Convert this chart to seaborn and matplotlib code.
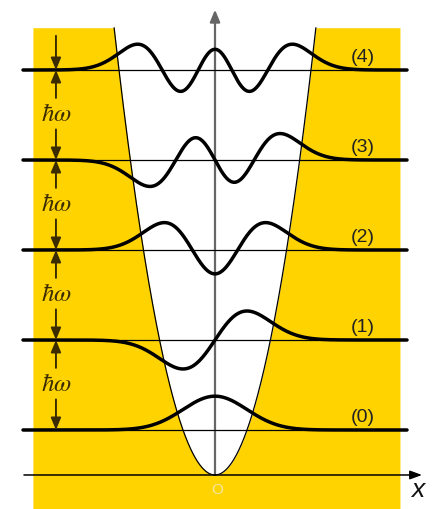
import numpy as np
import pandas as pd
import matplotlib
matplotlib.use("Agg")
import matplotlib.pyplot as plt
import seaborn as sns
from math import factorial, pi, sqrt
from numpy.polynomial.hermite import hermval

# ---- data ----
levels = [0, 1, 2, 3, 4]                     # quantum numbers n
energies = [0.5, 1.5, 2.5, 3.5, 4.5]         # E_n in units of hbar*omega
level_labels = ["(0)", "(1)", "(2)", "(3)", "(4)"]
x_range = [-6.0, 6.0]                        # extent of wave-function lines
psi_scale = 0.5                              # drawing scale of psi on energy axis
well_top = 4.97                              # top of shaded region
shade_left, shade_right = -5.69, 5.78
bottom = -0.378

sns.set_theme(style="white")
plt.rcParams['font.family'] = ['Liberation Sans', 'DejaVu Sans']
plt.rcParams['mathtext.fontset'] = 'stix'

fig = plt.figure(figsize=(4.35, 5.09), dpi=100)
ax = fig.add_axes([0, 0, 1, 1])
ax.set_xlim(-215 / 32, 220 / 32)
ax.set_ylim(bottom, 475 / 90)
ax.axis("off")

yellow = "#FFD300"
brown = "#3b2c00"

# shaded forbidden region
xs = np.linspace(shade_left, shade_right, 1200)
V = xs ** 2 / 2
ax.fill_between(xs, bottom, np.minimum(V, well_top), color=yellow, lw=0, zorder=0)

# parabola
xp = np.linspace(-np.sqrt(2 * well_top), np.sqrt(2 * well_top), 600)
sns.lineplot(x=xp, y=xp ** 2 / 2, ax=ax, color="black", lw=0.9, estimator=None, sort=False, zorder=3)

# energy levels (thin) and wavefunctions (thick)
x = np.linspace(x_range[0], x_range[1], 1200)
rows = []
for n, E in zip(levels, energies):
    c = np.zeros(n + 1); c[n] = 1
    psi = hermval(x, c) * np.exp(-x ** 2 / 2) / sqrt(2 ** n * factorial(n)) / pi ** 0.25
    rows.append(pd.DataFrame({"x": x, "y": E + psi_scale * psi, "n": n}))
    ax.plot(x_range, [E, E], color="black", lw=0.9, zorder=3)
df = pd.concat(rows)
sns.lineplot(data=df, x="x", y="y", units="n", estimator=None, sort=False,
             color="black", lw=2.5, ax=ax, zorder=4, legend=False)

# level labels
for E, lab in zip(energies, level_labels):
    ax.text(4.63, E + 0.04, lab, ha="center", va="bottom", fontsize=14, color="#222222", zorder=5)

# vertical axis (gray)
ax.annotate("", xy=(0, 5.17), xytext=(0, 0),
            arrowprops=dict(arrowstyle="-|>,head_length=0.6,head_width=0.25", color="#666666", lw=1.6,
                            shrinkA=0, shrinkB=0), zorder=2)
# horizontal axis
ax.annotate("", xy=(6.47, 0), xytext=(-5.97, 0),
            arrowprops=dict(arrowstyle="-|>,head_length=0.6,head_width=0.22", color="black", lw=1.1,
                            shrinkA=0, shrinkB=0), zorder=3)
ax.text(6.34, -0.17, "x", fontsize=19, style="italic", ha="center", va="center", color="#111111")
ax.text(0.06, -0.17, "O", fontsize=11, ha="center", va="center", color="#f3e6a8")

# hbar omega spacing arrows
xa = -4.97
arrow_kw = dict(arrowstyle="-|>,head_length=0.6,head_width=0.25", color=brown, lw=1.4, shrinkA=0, shrinkB=0)
for lo, hi in zip(energies[:-1], energies[1:]):
    mid = (lo + hi) / 2
    ax.annotate("", xy=(xa, hi), xytext=(xa, mid + 0.19), arrowprops=arrow_kw, zorder=5)
    ax.annotate("", xy=(xa, lo), xytext=(xa, mid - 0.16), arrowprops=arrow_kw, zorder=5)
    ax.text(xa, mid + 0.01, r"$\hbar\omega$", fontsize=18, ha="center", va="center", color=brown, zorder=5)
ax.annotate("", xy=(xa, energies[-1]), xytext=(xa, 4.88), arrowprops=arrow_kw, zorder=5)

fig.savefig("out.png", dpi=100)
